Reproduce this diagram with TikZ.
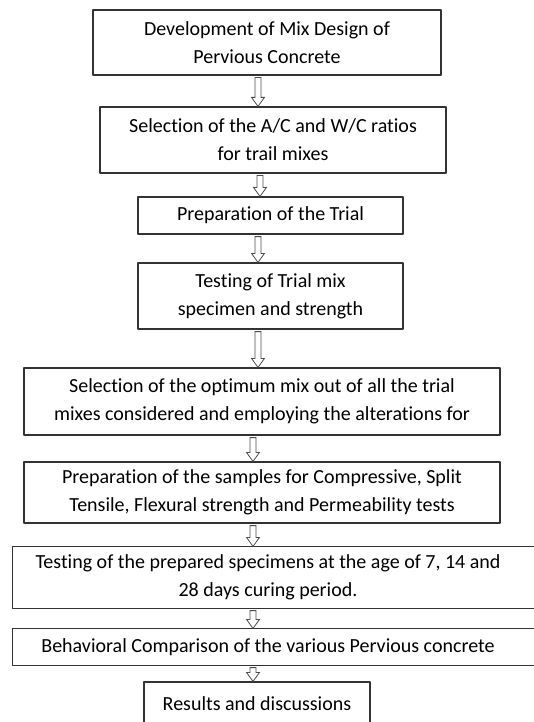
\documentclass[tikz,border=0pt]{standalone}
\usepackage{fontspec}
\setmainfont[Ligatures=NoCommon]{Carlito}
\usetikzlibrary{calc}
\tikzset{>=latex}
\tikzset{
    stepbox/.style={draw=black!80, line width=1.2pt, align=center, inner sep=0pt, text=black},
    openframe/.style={draw=black!80, line width=1.2pt},
    arrowline/.style={draw=black!70, line width=0.8pt, line join=miter}
}

\begin{document}
\begin{tikzpicture}[x=1pt, y=-1pt, line join=round, font=\fontsize{20}{28}\selectfont]
    \useasboundingbox (0,0) rectangle (533,722);
    \node[stepbox, minimum width=348, minimum height=65] (b1) at (267,42.5) {Development of Mix Design of\\Pervious Concrete};
    \node[stepbox, minimum width=346, minimum height=66] (b2) at (273,140) {Selection of the A/C and W/C ratios\\for trail mixes};
    \node[stepbox, minimum width=265, minimum height=37] (b3) at (270.5,215.5) {Preparation of the Trial};
    \node[stepbox, minimum width=265, minimum height=66] (b4) at (270.5,296) {Testing of Trial mix\\specimen and strength};
    \node[stepbox, minimum width=476, minimum height=67] (b5) at (262,401.5) {Selection of the optimum mix out of all the trial\\mixes considered and employing the alterations for};
    \node[stepbox, minimum width=476, minimum height=61] (b6) at (262,492.5) {Preparation of the samples for Compressive, Split\\Tensile, Flexural strength and Permeability tests};
    \node[stepbox, draw=none, minimum width=510, minimum height=61] (b7) at (268,577.5) {Testing of the prepared specimens at the age of 7, 14 and\\28 days curing period.};
    \draw[openframe] (b7.north west) rectangle ([xshift=40pt]b7.south east);
    \node[stepbox, draw=none, minimum width=510, minimum height=36] (b8) at (268,647) {Behavioral Comparison of the various Pervious concrete};
    \draw[openframe] (b8.north west) rectangle ([xshift=40pt]b8.south east);
    \node[stepbox, minimum width=226, minimum height=44] (b9) at (257,704) {Results and discussions};
    \foreach \a/\b/\ax in {b1/b2/258, b2/b3/260, b3/b4/258, b4/b5/258, b5/b6/253, b6/b7/253, b7/b8/253, b8/b9/253}{
        \path (\a.south -| \ax,0) coordinate (top) (\b.north -| \ax,0) coordinate (tip);
        \draw[arrowline] ([xshift=-3pt,yshift=-2pt]top) -- ([xshift=-3pt,yshift=9pt]tip) -- ([xshift=-6.5pt,yshift=9pt]tip) -- (tip)
            -- ([xshift=6.5pt,yshift=9pt]tip) -- ([xshift=3pt,yshift=9pt]tip) -- ([xshift=3pt,yshift=-2pt]top) -- cycle;
    }
\end{tikzpicture}
\end{document}
